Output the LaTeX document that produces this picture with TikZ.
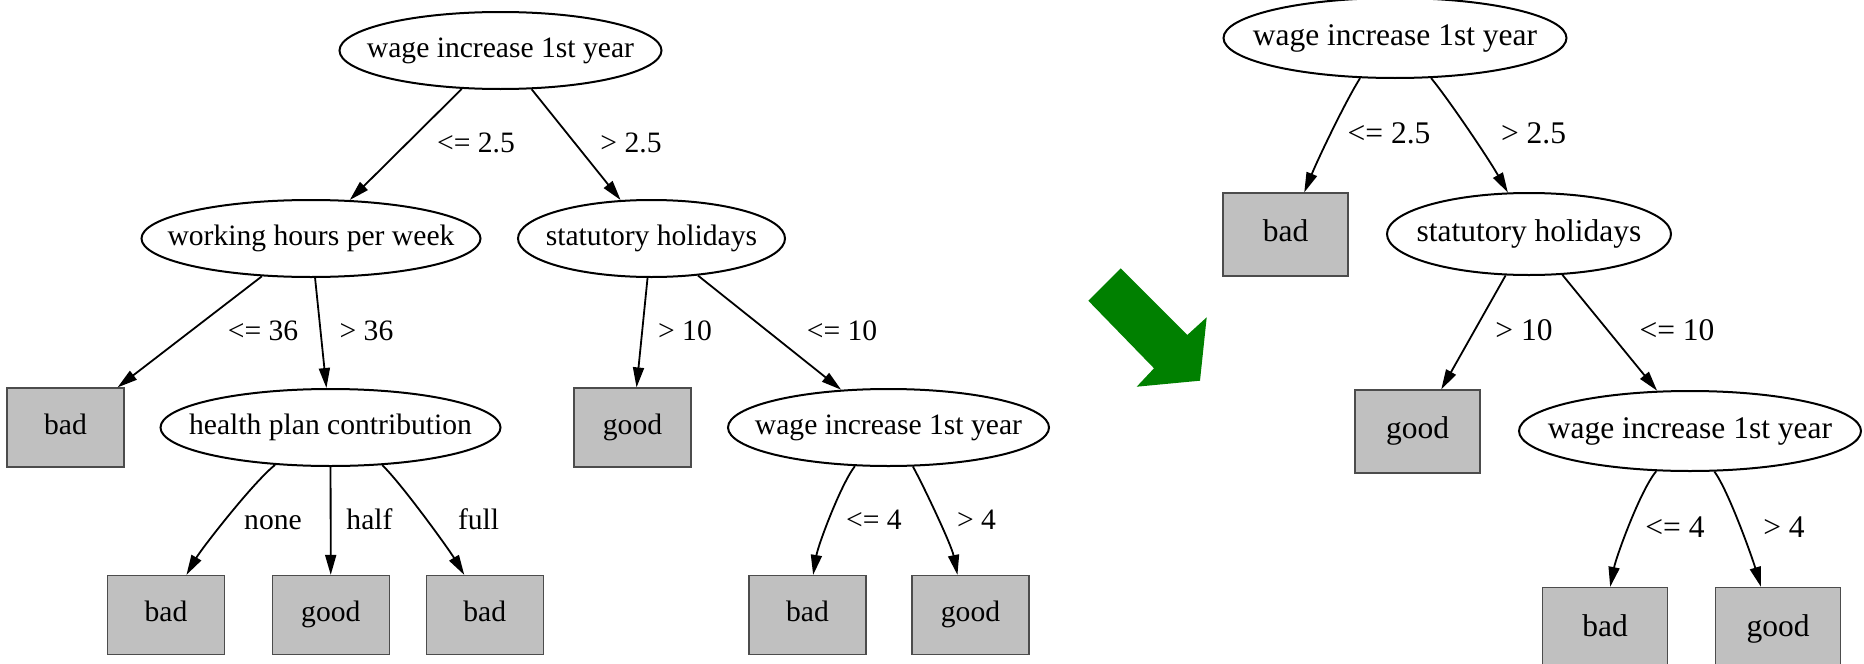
\documentclass[tikz,border=0pt]{standalone}
\usepackage{fontspec}
\setmainfont{Liberation Serif}
\usetikzlibrary{shapes.geometric,arrows.meta}
\definecolor{leafgray}{RGB}{192,192,192}
\definecolor{arrowgreen}{RGB}{0,128,0}
\newcommand\myfontL{\fontsize{14.8}{17}\selectfont}
\newcommand\myfontR{\fontsize{15.75}{18}\selectfont}
\newcommand\zwbox[1]{\makebox[0pt]{#1}}
\begin{document}
\begin{tikzpicture}[x=0.5pt,y=-0.5pt,
  dnodeL/.style={ellipse,draw,line width=1pt,inner sep=0pt,text height=10pt,text depth=3.3pt,font=\myfontL},
  dnodeR/.style={dnodeL,text height=10.7pt,text depth=3.5pt,font=\myfontR},
  leafL/.style={rectangle,draw=black!70,line width=0.6pt,fill=leafgray,inner sep=0pt,minimum width=58.5pt,minimum height=39.5pt,text height=10pt,text depth=3.3pt,font=\myfontL},
  leafR/.style={leafL,minimum width=62.5pt,minimum height=41.5pt,text height=10.7pt,text depth=3.5pt,font=\myfontR},
  conn/.style={draw,line width=0.9pt,-{Triangle[length=10pt,width=5.5pt]}},
  lblL/.style={anchor=base,inner sep=0pt,font=\myfontL},
  lblR/.style={anchor=base,inner sep=0pt,font=\myfontR},
]
\useasboundingbox (0,0) rectangle (1864,664);

% ---------- left tree ----------
\node[dnodeL,minimum width=161pt,minimum height=38.5pt] (r1) at (500.5,50.5) {\zwbox{wage increase 1st year}};
\node[dnodeL,minimum width=169.5pt,minimum height=38.5pt] (w1) at (311,238.5) {\zwbox{working hours per week}};
\node[dnodeL,minimum width=133.5pt,minimum height=38.5pt] (s1) at (651.5,238.5) {\zwbox{statutory holidays}};
\node[leafL] (b1) at (65.5,427.5) {bad};
\node[dnodeL,minimum width=170pt,minimum height=38.5pt] (h1) at (330.5,427.5) {\zwbox{health plan contribution}};
\node[leafL] (g1) at (632.5,427.5) {good};
\node[dnodeL,minimum width=160.5pt,minimum height=38.5pt] (v1) at (888.5,427.5) {\zwbox{wage increase 1st year}};
\node[leafL] (b2) at (166,615) {bad};
\node[leafL] (g2) at (330.8,615) {good};
\node[leafL] (b3) at (484.7,615) {bad};
\node[leafL] (b4) at (807.5,615) {bad};
\node[leafL] (g3) at (970.5,615) {good};

\draw[conn] (r1) -- (w1);
\draw[conn] (r1) -- (s1);
\draw[conn] (w1) -- (b1);
\draw[conn] (w1) -- (h1);
\draw[conn] (s1) -- (g1);
\draw[conn] (s1) -- (v1);
\draw[conn] (h1.214.7) .. controls +(-22,17.5) and +(15,-26) .. (b2.63.7);
\draw[conn] (h1) -- (g2);
\draw[conn] (h1.-36.8) .. controls +(20,19.5) and +(-15,-25) .. (b3.117.6);
\draw[conn] (v1.229.8) .. controls +(-14,18) and +(5,-30) .. (b4.82.5);
\draw[conn] (v1.-58) .. controls +(10,18) and +(-6,-30) .. (g3.108.9);

\node[lblL] (t1) at (476,152) {<= 2.5};
\node[lblL] (t2) at (631,152) {> 2.5};
\node[lblL] (t3) at (263,340) {<= 36};
\node[lblL] (t4) at (366.5,340) {> 36};
\node[lblL] (t5) at (685,340) {> 10};
\node[lblL] (t6) at (842,340) {<= 10};
\node[lblL] (t7) at (273,529) {none};
\node[lblL] (t8) at (369.5,529) {half};
\node[lblL] (t9) at (478.6,529) {full};
\node[lblL] (t10) at (874,529) {<= 4};
\node[lblL] (t11) at (976.5,529) {> 4};

% ---------- green arrow ----------
\fill[arrowgreen] (1120.7,268.3) -- (1187.3,335) -- (1206.7,317.3) -- (1200,380.7)
  -- (1136.7,386.7) -- (1154,368.3) -- (1088.3,300.7) -- cycle;

% ---------- right tree ----------
\node[dnodeR,minimum width=171.5pt,minimum height=40pt] (r2) at (1395,38) {\zwbox{wage increase 1st year}};
\node[leafR] (b5) at (1285.5,234.5) {bad};
\node[dnodeR,minimum width=142pt,minimum height=41pt] (s2) at (1529,234) {\zwbox{statutory holidays}};
\node[leafR] (g4) at (1417.5,431.5) {good};
\node[dnodeR,minimum width=171pt,minimum height=40pt] (v2) at (1690,431) {\zwbox{wage increase 1st year}};
\node[leafR] (b6) at (1605,629) {bad};
\node[leafR] (g5) at (1778,629) {good};

\draw[conn] (r2.229.6) .. controls +(-14,22) and +(14.4,-35) .. (b5.66.6);
\draw[conn] (r2.-48) .. controls +(18,22) and +(-20,-35) .. (s2.117.7);
\draw[conn] (s2) -- (g4);
\draw[conn] (s2) -- (v2);
\draw[conn] (v2.230) .. controls +(-16,19) and +(6,-30) .. (b6.83);
\draw[conn] (v2.-59.7) .. controls +(14,19) and +(-9,-30) .. (g5.112.3);

\node[lblR] (u1) at (1389,143) {<= 2.5};
\node[lblR] (u2) at (1533.5,143) {> 2.5};
\node[lblR] (u3) at (1524,340) {> 10};
\node[lblR] (u4) at (1677,340) {<= 10};
\node[lblR] (u5) at (1675,537) {<= 4};
\node[lblR] (u6) at (1784,537) {> 4};
\end{tikzpicture}
\end{document}
